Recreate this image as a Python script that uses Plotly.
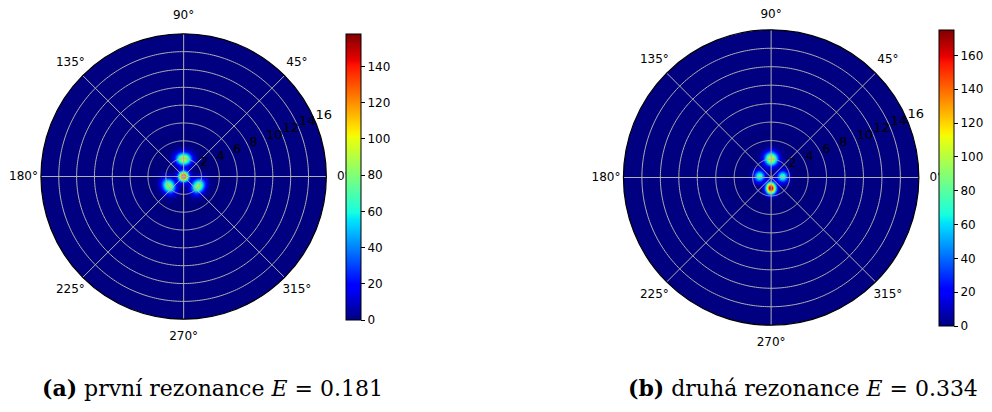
import numpy as np
import plotly.graph_objects as go

# ---------------- data ----------------
ang_ticks = [0, 45, 90, 135, 180, 225, 270, 315]
ang_labels = ["0°", "45°", "90°", "135°", "180°", "225°", "270°", "315°"]
r_ticks = [2, 4, 6, 8, 10, 12, 14, 16]
r_max = 16

# (a) první rezonance: density blobs (radius, angle [deg], peak, radial width, tangential width)
a_r = [0.0, 2.0, 2.0, 2.0]
a_theta = [0, 90, 213, 327]
a_amp = [156, 96, 86, 86]
a_sr = [0.42, 0.5, 0.5, 0.5]
a_st = [0.42, 0.62, 0.62, 0.62]
a_cmax = 158
a_cticks = [0, 20, 40, 60, 80, 100, 120, 140]

# (b) druhá rezonance
b_r = [1.2, 2.05, 1.3, 1.3]
b_theta = [270, 90, 5, 175]
b_amp = [174, 110, 76, 76]
b_sr = [0.44, 0.52, 0.42, 0.42]
b_st = [0.39, 0.52, 0.45, 0.45]
b_cmax = 175
b_cticks = [0, 20, 40, 60, 80, 100, 120, 140, 160]

captions = ["<b>(a)</b> první rezonance <i>E</i> = 0.181",
            "<b>(b)</b> druhá rezonance <i>E</i> = 0.334"]

# ---------------- page geometry (body has an 8 px margin) ----------------
OFF = 8
W, H = 976, 396


def px(x):
    return (x - OFF) / W


def py(y):
    return 1 - (y - OFF) / H


# panel geometry in window pixels: centre x, centre y, rim radius
PANELS = [(184.0, 176.5, 143.0), (772.7, 177.5, 148.0)]
LABEL_GAP = 17.5


# ---------------- matplotlib "jet" colour scale ----------------
def jet_scale():
    stops = [0, 0.11, 0.125, 0.34, 0.35, 0.375, 0.64, 0.65, 0.66, 0.89, 0.91, 1.0]
    rx, ry = [0, 0.35, 0.66, 0.89, 1], [0, 0, 1, 1, 0.5]
    gx, gy = [0, 0.125, 0.375, 0.64, 0.91, 1], [0, 0, 1, 1, 0, 0]
    bx, by = [0, 0.11, 0.34, 0.65, 1], [0.5, 1, 1, 0, 0]
    out = []
    for s in stops:
        r = np.interp(s, rx, ry); g = np.interp(s, gx, gy); b = np.interp(s, bx, by)
        out.append([s, "rgb(%d,%d,%d)" % (round(r * 255), round(g * 255), round(b * 255))])
    return out


JET = jet_scale()
JET0 = JET[0][1]

# ---------------- field on a polar grid ----------------
dr, dth = 0.08, 3.0
r_edges = np.arange(0, 5.0 + 1e-9, dr)
th_c = np.arange(0, 360, dth) + dth / 2
R0, TH = np.meshgrid(r_edges[:-1], th_c, indexing="ij")
RC = R0 + dr / 2
X = RC * np.cos(np.radians(TH)); Y = RC * np.sin(np.radians(TH))


def field(rs, ths, amps, srs, sts):
    v = np.zeros_like(X)
    for r0, t0, a, sr, st in zip(rs, ths, amps, srs, sts):
        ct, sn = np.cos(np.radians(t0)), np.sin(np.radians(t0))
        x0, y0 = r0 * ct, r0 * sn
        du = (X - x0) * ct + (Y - y0) * sn
        dv = -(X - x0) * sn + (Y - y0) * ct
        v += a * np.exp(-du ** 2 / (2 * sr ** 2) - dv ** 2 / (2 * st ** 2))
    return v


VA = field(a_r, a_theta, a_amp, a_sr, a_st)
VB = field(b_r, b_theta, b_amp, b_sr, b_st)

fig = go.Figure()

# angular tick labels on a hidden full-page cartesian layer (drawn under the colour bars)
lx, ly, lt = [], [], []
for cx, cy, rad in PANELS:
    for a, lab in zip(ang_ticks, ang_labels):
        lx.append(cx + (rad + LABEL_GAP) * np.cos(np.radians(a)))
        ly.append(max(cy - (rad + LABEL_GAP) * np.sin(np.radians(a)), OFF + 7))
        lt.append(lab)
fig.add_trace(go.Scatter(x=lx, y=ly, text=lt, mode="text", textposition="middle center",
                         textfont=dict(family="DejaVu Sans", size=12, color="#000"),
                         cliponaxis=False, hoverinfo="skip", showlegend=False))


def add_panel(vals, polar, cax):
    fig.add_trace(go.Barpolar(
        r=np.full(vals.size, dr), base=R0.ravel(), theta=TH.ravel(),
        width=dth, marker=dict(color=vals.ravel(), coloraxis=cax,
                               line=dict(width=0.6, color=vals.ravel(), coloraxis=cax)),
        subplot=polar, hoverinfo="skip", showlegend=False))
    # grid overlay (drawn above the density)
    th_line = np.linspace(0, 360, 361)
    rr, tt = [], []
    for rv in r_ticks[:-1]:
        rr += [rv] * len(th_line) + [None]
        tt += list(th_line) + [None]
    for a in ang_ticks:
        rr += [0, r_max, None]
        tt += [a, a, None]
    fig.add_trace(go.Scatterpolar(r=rr, theta=tt, mode="lines",
                                  line=dict(color="#b0b0b0", width=1),
                                  subplot=polar, hoverinfo="skip", showlegend=False))
    fig.add_trace(go.Scatterpolar(r=r_ticks, theta=[22.5] * len(r_ticks), mode="text",
                                  text=[str(v) for v in r_ticks], textposition="top right",
                                  textfont=dict(family="DejaVu Sans", size=13, color="#000"),
                                  cliponaxis=False, subplot=polar, hoverinfo="skip", showlegend=False))


add_panel(VA, "polar", "coloraxis")
add_panel(VB, "polar2", "coloraxis2")


def polar_layout(cx, cy, rad):
    return dict(
        domain=dict(x=[px(cx - rad), px(cx + rad)], y=[py(cy + rad), py(cy - rad)]),
        bgcolor=JET0, barmode="overlay",
        radialaxis=dict(range=[0, r_max], showticklabels=False, ticks="", showgrid=False, showline=False),
        angularaxis=dict(tickmode="array", tickvals=ang_ticks, showticklabels=False,
                         direction="counterclockwise", rotation=0, showgrid=False, ticks="",
                         showline=True, linecolor="black", linewidth=1.2))


def cbar(x, ymid, length, ticks):
    return dict(x=px(x), xanchor="left", xpad=0, y=py(ymid), yanchor="middle", ypad=0,
                len=length, lenmode="pixels", thickness=15, thicknessmode="pixels",
                outlinewidth=1, outlinecolor="black", ticks="outside", ticklen=4, tickcolor="#000",
                tickmode="array", tickvals=ticks,
                tickfont=dict(family="DejaVu Sans", size=12, color="#000"))


hidden = dict(visible=False, showgrid=False, zeroline=False, fixedrange=True)
fig.update_layout(
    width=W, height=H, margin=dict(l=0, r=0, t=0, b=0),
    paper_bgcolor="white", plot_bgcolor="rgba(0,0,0,0)", showlegend=False,
    xaxis=dict(domain=[0, 1], range=[OFF, OFF + W], **hidden),
    yaxis=dict(domain=[0, 1], range=[OFF + H, OFF], **hidden),
    polar=polar_layout(*PANELS[0]),
    polar2=polar_layout(*PANELS[1]),
    coloraxis=dict(colorscale=JET, cmin=0, cmax=a_cmax, colorbar=cbar(347, 177, 286, a_cticks)),
    coloraxis2=dict(colorscale=JET, cmin=0, cmax=b_cmax, colorbar=cbar(941, 178, 296, b_cticks)),
    annotations=[
        dict(text=captions[0], x=px(40), y=py(388), xref="paper", yref="paper",
             xanchor="left", yanchor="middle", showarrow=False,
             font=dict(family="DejaVu Serif", size=22, color="#000")),
        dict(text=captions[1], x=px(982), y=py(388), xref="paper", yref="paper",
             xanchor="right", yanchor="middle", showarrow=False,
             font=dict(family="DejaVu Serif", size=22, color="#000")),
    ],
)

fig.write_html("out.html")
